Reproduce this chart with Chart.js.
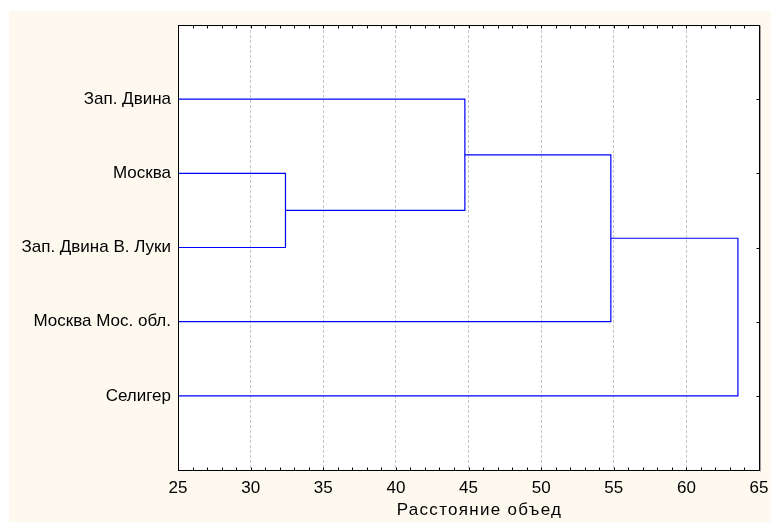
<!DOCTYPE html>
<html><head><meta charset="utf-8">
<script src="https://cdn.jsdelivr.net/npm/chart.js@4"></script>
<style>html,body{margin:0;padding:0;background:#fff}#wrap{width:771px;height:522px}</style>
</head><body><div id="wrap"><canvas id="c" width="771" height="522"></canvas></div>
<script>
const categories = ['Зап. Двина', 'Москва', 'Зап. Двина В. Луки', 'Москва Мос. обл.', 'Селигер'];
// merges: node ids 0..4 are leaves, new merged nodes get ids 5,6,7,8
const mergeA = [1, 0, 6, 7];
const mergeB = [2, 5, 3, 4];
const mergeDist = [32.4, 44.75, 54.8, 63.55];
const xMin = 25, xMax = 65, xStep = 5;
const axisTitle = 'Расстояние объед';

const nodes = categories.map((c, i) => ({x: xMin, y: i + 1}));
const datasets = [];
mergeDist.forEach((h, k) => {
  const a = nodes[mergeA[k]], b = nodes[mergeB[k]];
  datasets.push({
    data: [{x: a.x, y: a.y}, {x: h, y: a.y}, {x: h, y: b.y}, {x: b.x, y: b.y}],
    showLine: true, borderColor: '#0000ff', borderWidth: 1.2, pointRadius: 0, fill: false, tension: 0
  });
  nodes.push({x: h, y: (a.y + b.y) / 2});
});

const FONT = {family: '"Liberation Sans", Arial, sans-serif', size: 17};
const TFONT = {family: '"Liberation Sans", Arial, sans-serif', size: 17};
const crisp = v => Math.round(v) + 0.5;

const deco = {
  id: 'deco',
  beforeDraw(chart) {
    const {ctx, chartArea: ca} = chart;
    ctx.save();
    ctx.fillStyle = '#ffffff';
    ctx.fillRect(0, 0, chart.width, chart.height);
    ctx.fillStyle = '#fdf9ef';
    ctx.fillRect(9, 11, chart.width - 9, chart.height - 11);
    ctx.fillStyle = '#ffffff';
    ctx.fillRect(ca.left, ca.top, ca.right - ca.left, ca.bottom - ca.top);
    ctx.restore();
  },
  afterDraw(chart) {
    const {ctx, chartArea: ca, scales} = chart;
    const L = crisp(ca.left), R = crisp(ca.right), T = crisp(ca.top), B = crisp(ca.bottom);
    ctx.save();
    ctx.lineWidth = 1;
    ctx.strokeStyle = '#a0a0a0';
    ctx.beginPath(); ctx.moveTo(R + 1, T); ctx.lineTo(R + 1, B + 1); ctx.stroke();
    ctx.strokeStyle = '#000000';
    ctx.strokeRect(L, T, R - L, B - T);
    ctx.beginPath();
    for (let v = xMin + 1; v < xMax; v++) {
      const px = crisp(scales.x.getPixelForValue(v));
      ctx.moveTo(px, B); ctx.lineTo(px, B - 3);
      ctx.moveTo(px, T); ctx.lineTo(px, T + 3);
    }
    categories.forEach((c, i) => {
      const py = crisp(scales.y.getPixelForValue(i + 1));
      ctx.moveTo(R, py); ctx.lineTo(R - 3, py);
    });
    ctx.stroke();
    ctx.restore();
  }
};

new Chart(document.getElementById('c'), {
  type: 'scatter',
  data: {datasets},
  plugins: [deco],
  options: {
    responsive: false, animation: false, events: [],
    layout: {padding: {top: 25, right: 12, left: 0, bottom: 0}},
    plugins: {legend: {display: false}, tooltip: {enabled: false}},
    scales: {
      x: {
        type: 'linear', position: 'bottom', min: xMin, max: xMax,
        ticks: {stepSize: xStep, color: '#000', font: FONT, padding: 8},
        grid: {drawTicks: false, lineWidth: 1,
          color: c => (c.tick && (c.tick.value === xMin || c.tick.value === xMax)) ? 'rgba(0,0,0,0)' : '#c4c4c4'},
        border: {display: false, dash: [3, 2]},
        title: {display: true, text: axisTitle, color: '#000', font: TFONT, padding: {top: 0, bottom: 1}},
        afterFit(s) {
          s.height = 52; s.paddingLeft = 0; s.paddingRight = 0;
          if (!s._spaced) {
            s._spaced = true;
            const orig = s.drawTitle;
            s.drawTitle = function () {
              const ctx = this.ctx; ctx.save();
              if ('letterSpacing' in ctx) ctx.letterSpacing = '1.3px';
              ctx.translate(11, 0);
              orig.apply(this, arguments); ctx.restore();
            };
          }
        }
      },
      y: {
        type: 'linear', position: 'left', min: 0, max: categories.length + 1, reverse: true,
        ticks: {stepSize: 1, color: '#000', font: FONT, padding: 7,
          callback: v => categories[v - 1] || ''},
        grid: {display: false, drawTicks: false},
        border: {display: false},
        afterFit(s) { s.width = 178; s.paddingTop = 0; s.paddingBottom = 0; }
      }
    }
  }
});
</script>
</body></html>
